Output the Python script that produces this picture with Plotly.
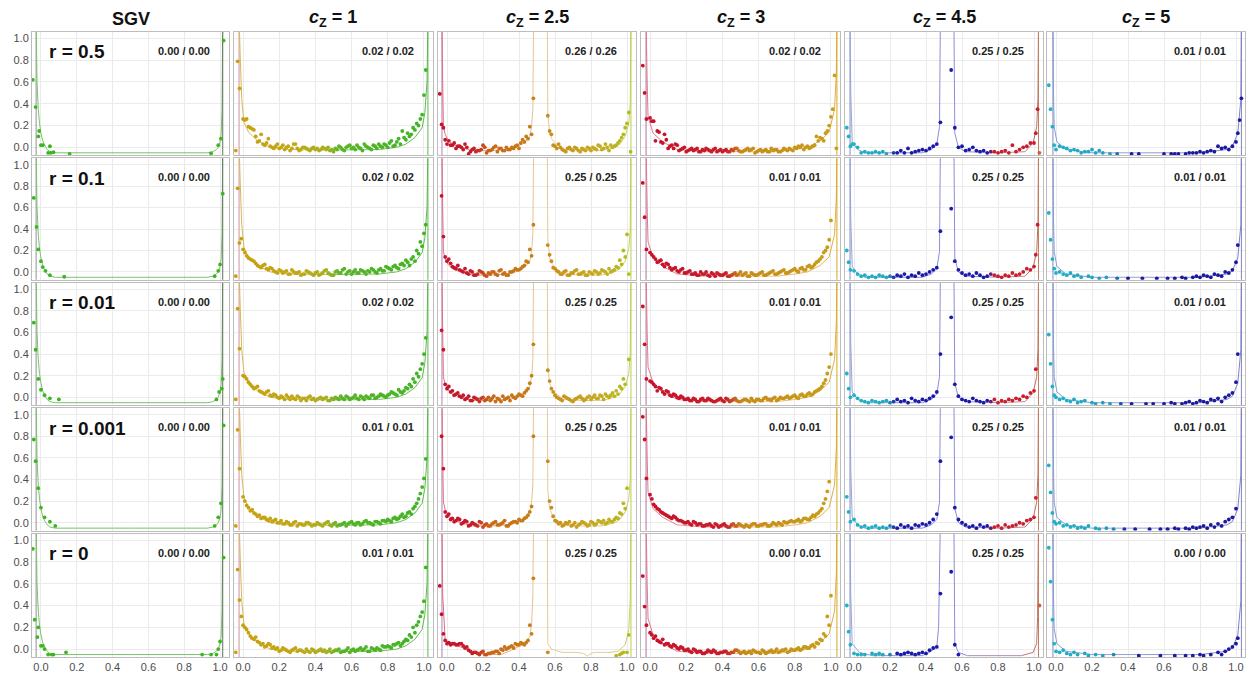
import plotly.graph_objects as go

N = None
W, H = 1247, 673
COL_PX = [(32, 229), (234, 433), (438, 636), (641, 840), (845, 1043), (1047, 1245)]
ROW_PX = [(32, 156), (159, 281), (284, 407), (410, 533), (536, 660)]
X_RANGE = [-0.05, 1.05]
Y_RANGE = [-0.073, 1.06]

COL_TITLES = ["<b>SGV</b>", "<b><i>c</i><sub>Z</sub> = 1</b>", "<b><i>c</i><sub>Z</sub> = 2.5</b>",
              "<b><i>c</i><sub>Z</sub> = 3</b>", "<b><i>c</i><sub>Z</sub> = 4.5</b>", "<b><i>c</i><sub>Z</sub> = 5</b>"]
ROW_LABELS = ["r = 0.5", "r = 0.1", "r = 0.01", "r = 0.001", "r = 0"]
STATS = [
    ["0.00 / 0.00", "0.02 / 0.02", "0.26 / 0.26", "0.02 / 0.02", "0.25 / 0.25", "0.01 / 0.01"],
    ["0.00 / 0.00", "0.02 / 0.02", "0.25 / 0.25", "0.01 / 0.01", "0.25 / 0.25", "0.01 / 0.01"],
    ["0.00 / 0.00", "0.02 / 0.02", "0.25 / 0.25", "0.01 / 0.01", "0.25 / 0.25", "0.01 / 0.01"],
    ["0.00 / 0.00", "0.01 / 0.01", "0.25 / 0.25", "0.01 / 0.01", "0.25 / 0.25", "0.01 / 0.01"],
    ["0.00 / 0.00", "0.01 / 0.01", "0.25 / 0.25", "0.00 / 0.01", "0.25 / 0.25", "0.00 / 0.00"],
]
TICK_VALS = [0.0, 0.2, 0.4, 0.6, 0.8, 1.0]
TICK_TEXT = ["0.0", "0.2", "0.4", "0.6", "0.8", "1.0"]

# ---------------- SGV column (explicit points) ----------------
SGV_X = [
    [-0.045, -0.03, -0.015, -0.01, 0.0, 0.01, 0.04, 0.05, 0.055, 0.07, 0.16, 0.95, 0.99, 1.005, 1.02],
    [-0.04, -0.025, -0.015, 0.0, 0.01, 0.025, 0.05, 0.13, 0.97, 0.99, 1.0, 1.015],
    [-0.04, -0.03, -0.015, 0.0, 0.02, 0.05, 0.1, 0.98, 0.995, 1.01, 1.015],
    [-0.04, -0.03, -0.015, 0.0, 0.02, 0.05, 0.08, 0.97, 0.99, 1.005, 1.02],
    [-0.045, -0.035, -0.02, -0.015, 0.0, 0.01, 0.02, 0.04, 0.06, 0.07, 0.14, 0.9, 0.95, 0.98, 0.99, 1.0, 1.02],
]
SGV_Y = [
    [0.62, 0.37, 0.10, 0.15, 0.02, 0.02, -0.05, 0.01, -0.05, -0.045, -0.06, -0.055, 0.02, 0.08, 0.98],
    [0.69, 0.42, 0.21, 0.10, 0.045, 0.01, -0.03, -0.045, -0.04, 0.01, 0.07, 0.73],
    [0.69, 0.44, 0.17, 0.07, 0.02, -0.01, -0.02, -0.02, 0.05, 0.08, 0.17],
    [0.77, 0.57, 0.32, 0.14, 0.05, 0.01, -0.03, -0.03, 0.05, 0.18, 0.9],
    [0.92, 0.27, 0.11, 0.2, 0.03, 0.03, 0.0, -0.05, -0.05, -0.05, -0.03, -0.05, -0.05, -0.05, 0.0, 0.07, 0.84],
]

# ---------------- shared bin positions for the c_Z columns ----------------
GRID_X = [-0.04, -0.03, -0.02, -0.01,
          0.00, 0.02, 0.04, 0.06, 0.08, 0.10, 0.12, 0.14, 0.16, 0.18,
          0.20, 0.22, 0.24, 0.26, 0.28, 0.30, 0.32, 0.34, 0.36, 0.38,
          0.40, 0.42, 0.44, 0.46, 0.48, 0.50, 0.52, 0.54, 0.56, 0.58,
          0.60, 0.62, 0.64, 0.66, 0.68, 0.70, 0.72, 0.74, 0.76, 0.78,
          0.80, 0.82, 0.84, 0.86, 0.88, 0.90, 0.92, 0.94, 0.96, 0.98,
          1.00,
          1.01, 1.02, 1.03]
GRID_X2 = [0.01, 0.03, 0.05, 0.07, 0.09, 0.11, 0.13, 0.15, 0.17, 0.19,
           0.21, 0.23, 0.25, 0.27, 0.29, 0.31, 0.33, 0.35, 0.37, 0.39,
           0.41, 0.43, 0.45, 0.47, 0.49, 0.51, 0.53, 0.55, 0.57, 0.59,
           0.61, 0.63, 0.65, 0.67, 0.69, 0.71, 0.73, 0.75, 0.77, 0.79,
           0.81, 0.83, 0.85, 0.87, 0.89, 0.91, 0.93, 0.95, 0.97, 0.99]

# values in hundredths (None = no point)
CZ1_Y = [
    [-3, 79, 54, N,
     26, 26, 18, 16, 5, 12, 2, 8, 0, 1,
     -1, 2, 0, -3, 3, -1, -2, 0, -2, -1,
     -2, -3, 0, -2, -3, -4, -2, 0, -3, 1,
     -1, -2, 0, -3, 1, -1, 2, -1, 1, 3,
     0, 6, 2, 8, 15, 7, 10, 18, 22, 26,
     48,
     71, N, N],
    [-4, 78, 27, 31,
     21, 15, 12, 10, 6, 4, 7, 2, 3, 0,
     2, -1, 1, -2, 0, -1, -3, -2, 0, -2,
     -1, -3, -1, 2, -2, -3, 1, -1, 3, 0,
     -2, 2, -1, 1, -2, 0, 2, -1, 3, 1,
     4, 2, 6, 3, 8, 11, 6, 14, 20, 28,
     36,
     44, N, N],
    [-2, 82, 45, N,
     20, 17, 12, 8, 10, 5, 3, 6, 1, 2,
     -1, 0, 2, -2, -1, 1, -3, -1, 0, -2,
     -3, -1, -2, 0, -3, -2, -1, 1, -2, 0,
     -1, 2, -2, 0, 1, -1, 2, 0, 3, 1,
     2, 5, 3, 7, 4, 9, 12, 17, 22, 26,
     40,
     55, N, N],
    [-3, 86, 50, N,
     24, 16, 11, 9, 6, 4, 5, 2, 1, 3,
     0, -1, 1, -2, 0, -3, -1, -2, 0, -3,
     -2, -1, -3, 0, -2, -1, -3, -2, 0, -1,
     1, -2, 0, -1, 2, 0, -2, 1, -1, 2,
     3, 1, 5, 4, 8, 6, 10, 13, 18, 27,
     41,
     59, N, N],
    [-3, 73, 45, 30,
     22, 18, 12, 9, 7, 4, 2, 5, 1, 0,
     -2, 1, -1, -3, 0, -2, -1, -3, -2, 0,
     -3, -1, -2, -3, 0, -2, -1, -3, -2, 1,
     -1, -2, 0, -1, 2, -2, 0, 1, -1, 2,
     3, 1, 4, 6, 5, 9, 13, 20, 22, 30,
     44,
     75, N, N],
]
CZ1_Y2 = [
    [25, 19, 17, 10, 6, 3, 4, 1, -1, 3,
     0, -2, 1, -1, 3, -3, 0, -1, -3, 0,
     -1, -2, -1, 0, -2, -1, 1, -2, 0, 2,
     0, 2, -1, 3, 0, -2, 1, 3, 0, 2,
     4, 1, 5, 3, 9, 13, 12, 16, 20, 30],
    [18, 13, 11, 8, 5, 6, 3, 4, 1, -1,
     1, 0, -2, 2, -1, 0, -2, 1, -1, -3,
     0, -2, 1, -1, -3, 0, -1, 2, -2, 1,
     0, -1, 2, 0, 1, 3, 0, 2, 1, 5,
     3, 5, 4, 7, 6, 9, 12, 10, 17, 24],
    [19, 14, 10, 9, 6, 4, 5, 2, 3, 0,
     1, -2, 0, 1, -2, 0, -1, -3, 1, -1,
     -2, 0, -1, -3, -1, 0, -2, -1, 1, -2,
     0, -1, 1, -2, 0, 2, -1, 1, 2, 0,
     3, 4, 2, 5, 6, 8, 10, 14, 19, 31],
    [20, 14, 12, 8, 7, 5, 3, 4, 2, 0,
     2, -1, 0, -2, 1, -1, -2, 0, -1, -2,
     0, -2, -1, 1, -3, 0, -2, -1, -3, 0,
     -1, 0, -2, 1, 0, -1, 1, 0, 2, 1,
     2, 4, 3, 6, 5, 9, 8, 15, 22, 33],
    [20, 15, 10, 11, 6, 5, 3, 4, 2, 1,
     -1, 0, -2, -1, 1, -1, -2, 0, -3, -1,
     -2, 0, -1, -2, -3, -1, 0, -2, -1, -3,
     0, -1, 1, 0, -2, 1, -1, 0, 3, 2,
     2, 4, 5, 3, 7, 8, 11, 15, 25, 34],
]
CZ25_Y = [
    [49, 21, 18, 7,
     3, 2, 4, 1, 0, 3, -6, -2, -4, -3,
     2, -5, -3, 0, -4, -1, -3, -2, 0, 1,
     -1, 7, 10, 19, 45, N, N, N, 29, 12,
     1, 3, -2, -4, 0, -3, -1, -4, -2, 0,
     -3, -1, 2, -2, 3, -3, 0, 2, 6, 12,
     22,
     32, -4, N],
    [N, 71, 33, 14,
     10, 8, 4, 6, 1, 3, -2, 0, -3, 1,
     -1, -4, -2, 0, -3, 2, -1, -3, 0, 3,
     2, 5, 10, 21, 44, N, N, N, 25, 10,
     3, 0, -2, 1, -3, -1, 2, -2, 0, -3,
     -1, 1, -2, 2, 0, 3, 1, 5, 11, 20,
     35,
     -2, N, N],
    [N, 62, 44, 12,
     8, 5, 2, 4, 0, -2, 1, -3, -1, -4,
     0, -2, -3, 1, -1, -4, -2, 0, 2, -1,
     3, 1, 6, 13, 49, N, N, N, 25, 8,
     2, -1, -3, 0, -2, -4, -1, 1, -3, 0,
     -2, 2, -1, 1, 3, 0, 4, 6, 10, 17,
     N,
     35, N, N],
    [N, 80, 50, 10,
     6, 3, 1, 4, -1, 2, -3, 0, -2, 1,
     -4, -1, -3, 0, -2, -1, 2, -3, 0, 1,
     3, 2, 5, 10, 80, N, N, N, 57, 14,
     2, -1, -3, 0, 1, -2, -4, -1, 0, -3,
     1, -2, 2, 0, -1, 3, 1, 5, 9, 18,
     32,
     N, N, N],
    [58, 32, 14, 8,
     5, 4, 5, 4, 5, 1, -1, -4, -3, -5,
     -2, -5, -4, -3, -2, 0, 2, 1, 3, 5,
     4, 5, 6, 22, 65, N, N, N, -3, N,
     N, N, N, N, N, N, N, N, N, N,
     N, N, N, N, N, N, N, -6, -5, -3,
     -3,
     13, N, N],
]
CZ25_Y2 = [
    [6, 2, -1, 1, -2, 0, -4, -1, -3, -2,
     0, -3, -2, 1, -1, -3, 0, -2, -1, 2,
     4, 5, 8, 12, N, N, N, N, 15, 2,
     -1, 0, -3, -1, -2, 0, -3, -1, -3, -1,
     0, -2, 1, -1, 0, 2, 1, 4, 9, 18],
    [12, 5, 3, 2, 0, -1, 1, -3, -2, 0,
     -3, -1, 0, -2, 1, -2, -3, 0, 1, 2,
     3, 6, 9, 15, N, N, N, N, 16, 4,
     1, -2, 0, -3, -1, 1, -2, -1, -3, 0,
     -2, 0, -1, 1, -2, 0, 2, 4, 7, 14],
    [10, 6, 3, 1, 2, -1, -3, 0, -2, -1,
     -3, 0, -1, -4, -2, 1, -1, -3, 0, 1,
     2, 4, 8, 20, N, N, N, N, 15, 5,
     0, -2, 1, -1, -3, -2, 0, -1, -2, 1,
     0, -1, 2, -2, 1, 2, 1, 3, 8, 12],
    [8, 4, 2, 3, 0, 1, -2, -1, -3, 0,
     -2, -3, -1, 1, -2, 0, -3, -1, 1, 0,
     2, 4, 7, 15, N, N, N, N, 20, 6,
     1, 0, -2, -1, -3, 0, -2, 1, -1, -2,
     0, -1, 1, 2, 0, 1, 3, 4, 8, 13],
    [6, 5, 4, 5, 3, 2, -2, -3, -4, -3,
     -5, -4, -3, -2, -4, -1, 0, 2, 1, 4,
     6, 4, 8, 14, N, N, N, N, N, N,
     N, N, N, N, N, N, N, N, N, N,
     N, N, N, N, N, N, N, N, -4, N],
]
CZ3_Y = [
    [75, 50, 26, N,
     27, 24, 15, 5, 12, -1, 2, 3, -3, -1,
     -4, -2, -3, -1, -4, -3, -2, -4, -1, -3,
     -4, -2, -4, -3, -1, -4, -3, -1, -2, -5,
     -3, -4, -2, -4, -3, -2, -4, -1, -3, -2,
     0, 1, 2, 0, -1, 1, 10, 9, 6, 15,
     28,
     35, 66, -1],
    [83, 51, 21, N,
     18, 14, 9, 11, 5, 7, 2, 4, 0, 3,
     -1, 1, -2, -3, 0, -2, -3, -1, -4, -2,
     -3, -1, -4, -2, -3, 0, -2, -4, -1, -3,
     -2, 0, -3, -1, 1, -2, 0, 2, -1, 1,
     3, 0, 4, 2, 6, 5, 9, 12, 18, 23,
     48,
     N, N, N],
    [84, 49, 17, N,
     15, 12, 6, 8, 3, 5, 1, 2, -1, 0,
     -2, -3, -1, -4, -2, -3, -1, -3, -4, -2,
     -3, -1, -4, -2, -3, -4, -2, -3, -1, -4,
     -2, -3, 0, -2, -1, -3, 0, -1, 1, 0,
     2, -1, 3, 1, 4, 3, 6, 8, 13, 22,
     40,
     N, N, N],
    [98, 77, 41, N,
     26, 17, 13, 10, 8, 6, 4, 5, 2, 1,
     0, -1, 1, -2, -1, -3, -2, -3, -1, -4,
     -2, -3, -4, -1, -3, -2, -4, -3, -2, -1,
     -3, -2, -1, -3, 0, -2, -1, 1, 0, 2,
     1, 3, 2, 4, 3, 7, 8, 11, 18, 29,
     N,
     N, N, N],
    [67, 39, 22, N,
     15, 10, 8, 6, 4, 5, 2, 3, 0, 1,
     -1, -2, 0, -3, -2, -4, -1, -3, -2, -4,
     -3, -2, -4, -3, -1, -4, -2, -3, -4, -2,
     -3, -1, -4, -2, -3, 0, -2, -1, -3, 0,
     -1, 1, 0, 2, 1, 4, 6, 9, 14, 30,
     49,
     N, N, N],
]
CZ3_Y2 = [
    [24, 6, 14, 4, 7, 1, -1, 2, -2, 0,
     -3, -1, -2, -4, -2, -1, -3, -2, -4, -2,
     -3, -4, -2, -1, -3, -4, -2, -3, -1, -4,
     -2, -3, -4, -1, -2, -4, -3, -2, -1, -3,
     -1, 0, -2, 1, 0, 2, 6, 8, 13, 20],
    [16, 12, 10, 7, 8, 4, 3, 1, 2, -1,
     0, -2, -1, -3, -2, 0, -4, -2, -1, -3,
     -2, -4, -3, -1, -2, -3, -1, -4, -2, -3,
     -1, -3, -2, 0, -2, -1, 1, -1, 0, 2,
     1, 3, 2, 5, 4, 7, 10, 14, 20, 30],
    [14, 10, 9, 5, 6, 2, 3, 0, 1, -2,
     -1, -3, -2, -4, -1, -3, -2, -4, -3, -1,
     -4, -2, -3, -1, -4, -3, -2, -4, -3, -2,
     -3, -1, -2, -3, 0, -2, -1, 0, -1, 1,
     0, 2, 1, 3, 2, 5, 7, 10, 16, 28],
    [22, 15, 12, 9, 7, 5, 6, 3, 2, 0,
     1, -2, 0, -1, -3, -2, -1, -4, -2, -3,
     -1, -4, -2, -3, -1, -3, -2, -4, -1, -3,
     -2, -1, -3, -2, -1, 0, -2, 0, 1, 1,
     2, 1, 4, 3, 5, 6, 9, 13, 22, 38],
    [13, 12, 7, 9, 5, 3, 4, 1, 2, -1,
     0, -3, -1, -2, -4, -3, -2, -1, -4, -3,
     -2, -4, -3, -1, -2, -3, -4, -2, -1, -3,
     -4, -2, -3, -1, -2, -3, -1, 0, -2, -1,
     0, -1, 2, 1, 3, 2, 5, 8, 12, 22],
]
CZ45_Y = [
    [18, 10, 1, 3,
     3, 0, -5, -4, -5, -5, -4, -5, -4, -6,
     N, -5, -5, -3, -5, -1, -5, -4, -3, -2,
     -3, -1, 1, 3, 23, N, N, 71, 18, 0,
     1, -3, -2, 0, -3, -4, -3, -5, -4, -4,
     -5, -4, -3, -5, 2, -4, -2, 0, 1, 4,
     4,
     13, 35, -5],
    [20, 9, 2, N,
     1, -2, -4, -3, -5, -4, -5, -3, -4, -5,
     -4, -5, -3, -4, -2, -5, -3, -4, -1, -3,
     -2, 0, 2, 4, 38, N, N, 59, 10, 2,
     -1, -3, -2, -4, -1, -3, -5, -4, -2, -3,
     -4, -5, -3, -4, -1, -3, -2, 0, 3, 2,
     5,
     16, 44, N],
    [22, 8, 0, N,
     2, -1, -3, -4, -5, -3, -4, -5, -4, -3,
     -5, -4, -2, -4, -3, -5, -1, -3, -4, -2,
     -3, -1, 1, 5, 40, N, N, 74, 12, 1,
     -2, -3, -4, -1, -3, -4, -5, -3, -4, -2,
     -5, -3, -4, -2, -3, -1, -2, 1, 0, 4,
     6,
     26, N, N],
    [24, 10, 1, N,
     3, -2, -4, -3, -5, -4, -3, -5, -4, -5,
     -3, -4, -5, -2, -4, -3, -5, -2, -3, -1,
     -2, 0, 3, 8, 57, N, N, 79, 14, 3,
     0, -2, -4, -3, -5, -2, -4, -3, -5, -4,
     -3, -5, -2, -4, -3, -2, 0, -1, 2, 3,
     5,
     23, N, N],
    [40, 16, 4, N,
     -4, -5, -5, -5, N, -4, -5, -4, -5, N,
     -5, N, -4, -5, -4, -3, -4, -5, -4, -3,
     -4, -1, 1, 2, 51, N, N, 71, 4, -5,
     N, N, N, N, N, N, N, N, N, N,
     N, N, N, N, N, N, N, N, N, N,
     N,
     N, N, 40],
]
CZ5_Y = [
    [57, 35, 19, 2,
     -2, 1, 0, -1, -3, -2, -3, -5, -4, -4,
     -2, -5, -3, -5, N, -6, N, -6, N, N,
     N, -6, N, -6, N, N, N, N, N, N,
     -6, N, -6, -6, -6, N, -6, -5, -5, -5,
     -4, -5, -4, -3, -4, 1, -1, 0, -2, 1,
     5,
     13, 25, 45],
    [55, 30, 12, 3,
     -1, 0, -2, -3, -1, -4, -3, -5, N, -4,
     -5, N, -6, N, -5, N, N, -6, N, N,
     -6, N, N, N, -6, N, N, N, -6, N,
     N, -6, N, -6, N, -5, -6, N, -5, -4,
     -5, -3, -4, -5, -2, -3, -4, 0, -1, 2,
     9,
     25, N, N],
    [58, 31, 10, 2,
     0, -2, -1, -3, -4, -2, -5, -4, -3, N,
     -5, -6, N, -5, N, -6, N, N, -6, N,
     N, -6, N, N, N, -6, N, -6, N, N,
     -6, N, -5, -6, N, -6, -5, -4, -6, -5,
     -3, -4, -5, -2, -3, -1, -4, 0, 2, 4,
     14,
     40, N, N],
    [53, 28, 9, 1,
     -1, 0, -3, -2, -4, -3, -5, -4, -5, -3,
     N, -5, -6, N, -5, N, -6, N, N, -6,
     N, N, -6, N, N, N, -6, N, N, -6,
     N, -6, N, -5, -6, N, -5, -6, -4, -5,
     -4, -3, -5, -2, -4, -1, -3, 1, 3, 5,
     13,
     N, N, N],
    [93, 62, 27, 5,
     -2, -3, -1, -4, -5, -3, -5, N, -4, -6,
     N, -5, N, -6, N, N, -5, N, N, N,
     N, N, N, -6, N, N, N, N, N, -6,
     N, N, N, -6, N, N, -6, N, -6, N,
     -5, -6, N, -5, N, -3, -5, -2, 0, 2,
     5,
     10, N, N],
]
PANEL_Y = [None, CZ1_Y, CZ25_Y, CZ3_Y, CZ45_Y, CZ5_Y]
PANEL_Y2 = [None, CZ1_Y2, CZ25_Y2, CZ3_Y2, None, None]

# ---------------- fitted curves (per column; row overrides) ----------------
CURVE_X = [
    [-0.027, -0.027, -0.022, -0.015, -0.008, 0.0, 0.01, 0.02, 0.035, 0.05, 0.08, 0.5, 0.93, 0.96, 0.98, 0.99, 1.0, 1.006, 1.011, 1.015, 1.015],
    [-0.022, -0.022, -0.015, -0.007, 0.005, 0.03, 0.08, 0.15, 0.25, 0.5, 0.75, 0.85, 0.9, 0.95, 0.99, 1.005, 1.017, 1.022, 1.022],
    [-0.028, -0.028, -0.024, -0.02, -0.01, 0.005, 0.03, 0.06, 0.14, 0.25, 0.33, 0.38, 0.43, 0.46, 0.47, 0.477, 0.481, N,
     0.557, 0.56, 0.57, 0.585, 0.6, 0.65, 0.75, 0.85, 0.89, 0.93, 0.96, 0.99, 1.01, 1.018, 1.022, 1.022],
    [-0.022, -0.022, -0.016, -0.011, 0.017, 0.07, 0.15, 0.3, 0.5, 0.7, 0.8, 0.87, 0.94, 0.99, 1.02, 1.03, 1.033, 1.033],
    [-0.022, -0.022, -0.018, -0.01, 0.02, 0.06, 0.2, 0.38, 0.43, 0.46, 0.475, 0.48, N, 0.555, 0.56, 0.58, 0.62, 0.8, 0.95, 0.995, 1.015, 1.022, 1.025, 1.025],
    [-0.017, -0.017, -0.014, -0.01, 0.005, 0.055, 0.2, 0.5, 0.8, 0.95, 0.98, 1.01, 1.027, 1.03, 1.03],
]
CURVE_Y = [
    [-0.1, 1.2, 0.6, 0.35, 0.22, 0.13, 0.06, 0.02, -0.02, -0.04, -0.05, -0.05, -0.05, -0.04, -0.02, 0.0, 0.05, 0.12, 0.35, 1.2, -0.1],
    [-0.1, 1.2, 0.8, 0.44, 0.23, 0.14, 0.06, 0.0, -0.02, -0.025, -0.02, 0.0, 0.03, 0.09, 0.18, 0.32, 0.6, 1.2, -0.1],
    [-0.1, 1.2, 0.6, 0.19, 0.12, 0.07, 0.03, 0.01, -0.03, -0.03, -0.02, 0.0, 0.04, 0.1, 0.19, 0.35, 1.2, N,
     1.2, 0.3, 0.13, 0.07, 0.04, -0.02, -0.03, -0.03, -0.02, 0.0, 0.03, 0.1, 0.22, 0.4, 1.2, -0.1],
    [-0.1, 1.2, 0.6, 0.28, 0.13, 0.05, -0.02, -0.04, -0.04, -0.04, -0.02, 0.0, 0.06, 0.14, 0.35, 0.7, 1.2, -0.1],
    [-0.1, 1.2, 0.5, 0.05, -0.02, -0.05, -0.05, -0.05, -0.02, 0.03, 0.19, 1.2, N, 1.2, 0.13, 0.0, -0.04, -0.05, -0.04, 0.04, 0.19, 0.45, 1.2, -0.1],
    [-0.1, 1.2, 0.5, 0.19, 0.05, -0.02, -0.05, -0.05, -0.05, -0.02, 0.01, 0.13, 0.44, 1.2, -0.1],
]
CURVE_R0_CZ25_X = [-0.028, -0.028, -0.024, -0.01, 0.045, 0.12, 0.21, 0.3, 0.36, 0.42, 0.46, 0.47, 0.477, 0.481, N,
                   0.557, 0.56, 0.58, 0.64, 0.72, 0.76, 0.78, 0.8, 0.82, 0.9, 0.95, 0.99, 1.01, 1.018, 1.022, 1.022]
CURVE_R0_CZ25_Y = [-0.1, 1.2, 0.5, 0.08, 0.04, -0.01, -0.05, -0.05, -0.01, 0.04, 0.11, 0.23, 0.5, 1.2, N,
                   1.2, 0.05, 0.0, -0.03, -0.03, -0.04, -0.065, -0.04, -0.03, -0.03, -0.02, 0.04, 0.18, 0.45, 1.2, -0.1]
CURVE_R0_CZ45_X = [-0.022, -0.022, -0.018, -0.01, 0.03, 0.1, 0.38, 0.42, 0.46, 0.47, 0.48, N,
                   0.555, 0.56, 0.58, 0.63, 0.93, 0.995, 1.015, 1.02, 1.025, 1.025]
CURVE_R0_CZ45_Y = [-0.1, 1.2, 0.5, 0.05, -0.03, -0.06, -0.06, -0.03, 0.02, 0.2, 1.2, N,
                   1.2, 0.05, -0.03, -0.06, -0.06, -0.03, 0.05, 0.3, 1.2, -0.1]

# ---------------- colours ----------------
POINT_STOPS = [
    [(-0.05, "#3cb521"), (1.05, "#3cb521")],
    [(-0.05, "#c8a010"), (0.3, "#c0a818"), (0.46, "#a8b020"), (0.54, "#58b428"), (1.05, "#3cb524")],
    [(-0.05, "#c8102e"), (0.15, "#c41e2a"), (0.24, "#c86a18"), (0.5, "#c88218"), (0.56, "#c88c18"), (0.8, "#c8a820"), (1.05, "#b0c020")],
    [(-0.05, "#c8102e"), (0.42, "#c81e2a"), (0.5, "#c88a18"), (1.05, "#c8a018")],
    [(-0.05, "#20b4c8"), (0.19, "#20a8c0"), (0.23, "#1a1aa8"), (0.74, "#1a1aa8"), (0.78, "#c81e2e"), (1.025, "#c81e2e"), (1.035, "#c8a050"), (1.05, "#c8a050")],
    [(-0.05, "#20b4c8"), (0.3, "#20a0c0"), (0.4, "#1a1aa0"), (1.05, "#1a1aa0")],
]
LINE_STOPS = [
    [(0.0, "#78c468"), (1.0, "#78c468")],
    [(0.0, "#d8b850"), (0.45, "#d8c860"), (0.6, "#88c860"), (1.0, "#60b850")],
    [(0.0, "#e07080"), (0.2, "#e0a080"), (0.45, "#e8c090"), (0.6, "#e8c8a0"), (0.85, "#e0d090"), (1.0, "#c8d060")],
    [(0.0, "#e07888"), (0.4, "#e8b0a0"), (0.6, "#e8c8a0"), (1.0, "#e0b040")],
    [(0.0, "#90a8d8"), (0.3, "#8888d8"), (0.7, "#9090d8"), (0.85, "#c090a0"), (1.0, "#c07060")],
    [(0.0, "#80a0d0"), (0.5, "#a0a0d8"), (1.0, "#8080c8")],
]
EDGE_LEFT = ["#909090", "#d0909c", "#b080b8", "#b070a0", "#8888c8", "#8888c8"]
EDGE_RIGHT = ["#607060", "#60b850", "#b8d050", "#d8a820", "#c08060", "#8080c0"]


def hex2rgb(h):
    h = h.lstrip("#")
    return tuple(int(h[i:i + 2], 16) for i in (0, 2, 4))


def color_at(stops, x):
    if x <= stops[0][0]:
        return "rgb(%d,%d,%d)" % hex2rgb(stops[0][1])
    for (x0, c0), (x1, c1) in zip(stops, stops[1:]):
        if x <= x1:
            t = (x - x0) / (x1 - x0) if x1 > x0 else 0.0
            a, b = hex2rgb(c0), hex2rgb(c1)
            return "rgb(%d,%d,%d)" % tuple(round(a[i] + (b[i] - a[i]) * t) for i in range(3))
    return "rgb(%d,%d,%d)" % hex2rgb(stops[-1][1])


def runs_of(xs, ys):
    runs, cur = [], []
    for x, y in zip(xs, ys):
        if x is None or y is None:
            if cur:
                runs.append(cur)
            cur = []
        else:
            cur.append((x, y))
    if cur:
        runs.append(cur)
    return runs


for arr in PANEL_Y[1:]:
    for row in arr:
        assert len(row) == len(GRID_X), len(row)
for arr in PANEL_Y2[1:4]:
    for row in arr:
        assert len(row) == len(GRID_X2), len(row)

fig = go.Figure()
layout = dict(
    width=W, height=H, margin=dict(l=0, r=0, t=0, b=0),
    paper_bgcolor="white", plot_bgcolor="white", showlegend=False,
    font=dict(family="Liberation Sans, Arial, sans-serif", color="#222222"),
)
annotations = []

for r in range(5):
    for c in range(6):
        i = r * 6 + c + 1
        xa = "x" if i == 1 else "x%d" % i
        ya = "y" if i == 1 else "y%d" % i
        x0, x1 = COL_PX[c]
        y0, y1 = ROW_PX[r]
        layout["xaxis" if i == 1 else "xaxis%d" % i] = dict(
            domain=[x0 / W, x1 / W], range=X_RANGE, anchor=ya,
            tickvals=TICK_VALS, ticktext=TICK_TEXT, showticklabels=(r == 4),
            showgrid=True, gridcolor="#ebebeb", gridwidth=1, zeroline=False,
            showline=True, mirror=True, linecolor="#bdbdbd", linewidth=1, ticks="",
            tickfont=dict(size=11, color="#4d4d4d"), fixedrange=True)
        layout["yaxis" if i == 1 else "yaxis%d" % i] = dict(
            domain=[1 - y1 / H, 1 - y0 / H], range=Y_RANGE, anchor=xa,
            tickvals=TICK_VALS, ticktext=TICK_TEXT, showticklabels=(c == 0),
            showgrid=True, gridcolor="#ebebeb", gridwidth=1, zeroline=False,
            showline=True, mirror=True, linecolor="#bdbdbd", linewidth=1, ticks="",
            tickfont=dict(size=11, color="#4d4d4d"), fixedrange=True)

        # curve
        if r == 4 and c == 2:
            cx, cy = CURVE_R0_CZ25_X, CURVE_R0_CZ25_Y
        elif r == 4 and c == 4:
            cx, cy = CURVE_R0_CZ45_X, CURVE_R0_CZ45_Y
        else:
            cx, cy = CURVE_X[c], CURVE_Y[c]
        runs = runs_of(cx, cy)
        for ri, run in enumerate(runs):
            for k in range(len(run) - 1):
                (ax_, ay_), (bx_, by_) = run[k], run[k + 1]
                if ri == 0 and k == 0:
                    col = EDGE_LEFT[c]
                elif ri == len(runs) - 1 and k == len(run) - 2:
                    col = EDGE_RIGHT[c]
                else:
                    col = color_at(LINE_STOPS[c], (ax_ + bx_) / 2)
                fig.add_trace(go.Scatter(x=[ax_, bx_], y=[ay_, by_], mode="lines",
                                         line=dict(color=col, width=1), xaxis=xa, yaxis=ya,
                                         hoverinfo="skip"))

        # points
        if c == 0:
            px_, py_ = list(SGV_X[r]), list(SGV_Y[r])
        else:
            vals = PANEL_Y[c][r]
            px_ = [x for x, v in zip(GRID_X, vals) if v is not None]
            py_ = [v / 100 for v in vals if v is not None]
            if PANEL_Y2[c] is not None:
                vals2 = PANEL_Y2[c][r]
                px_ += [x for x, v in zip(GRID_X2, vals2) if v is not None]
                py_ += [v / 100 for v in vals2 if v is not None]
        cols = [color_at(POINT_STOPS[c], x) for x in px_]
        fig.add_trace(go.Scatter(x=px_, y=py_, mode="markers",
                                 marker=dict(size=3.8, color=cols, line=dict(width=0)),
                                 xaxis=xa, yaxis=ya))

        # stats text
        annotations.append(dict(x=(x1 - 45) / W, y=1 - (y0 + 19) / H, xref="paper", yref="paper",
                                text="<b>%s</b>" % STATS[r][c], showarrow=False,
                                font=dict(size=11, color="#222222"), xanchor="center", yanchor="middle"))
    annotations.append(dict(x=(COL_PX[0][0] + 15) / W, y=1 - (ROW_PX[r][0] + 20) / H, xref="paper", yref="paper",
                            text="<b>%s</b>" % ROW_LABELS[r], showarrow=False,
                            font=dict(size=19, color="#111111"), xanchor="left", yanchor="middle"))

for c in range(6):
    annotations.append(dict(x=(COL_PX[c][0] + COL_PX[c][1]) / 2 / W, y=1 - 19 / H, xref="paper", yref="paper",
                            text=COL_TITLES[c], showarrow=False,
                            font=dict(size=18, color="#111111"), xanchor="center", yanchor="middle"))

layout["annotations"] = annotations
fig.update_layout(**layout)
fig.write_html("out.html", config={"displayModeBar": False},
               post_script="document.body.style.margin='0px';document.body.style.overflow='hidden';")
